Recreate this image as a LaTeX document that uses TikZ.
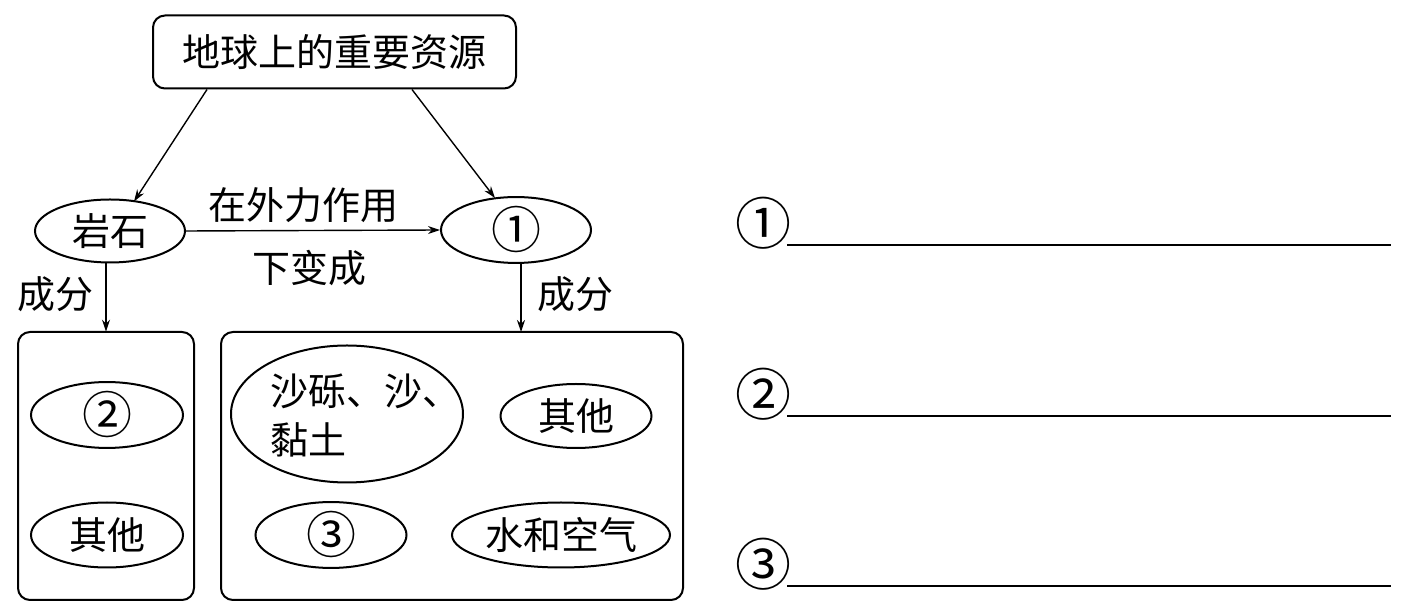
\documentclass[tikz,border=0pt]{standalone}
\usepackage{fontspec}
\newfontfamily\cjk{Noto Sans CJK SC}
\usetikzlibrary{shapes.geometric,arrows.meta,calc}
\tikzset{
  every node/.style={font=\cjk\fontsize{19}{24}\selectfont},
  el/.style 2 args={ellipse,draw,line width=1pt,minimum width=#1*0.5pt,minimum height=#2*0.5pt,inner sep=0pt},
  rbox/.style={draw,line width=1pt,rounded corners=6pt},
  arr/.style={line width=0.7pt,-{Stealth[length=6pt,width=4pt]}},
  lbl/.style={inner sep=0pt},
  blank/.style={line width=0.8pt},
  cn/.style={font=\cjk\fontsize{25}{28}\selectfont},
  num/.style={inner sep=0pt,font=\cjk\fontsize{28}{30}\selectfont}
}
\begin{document}
\begin{tikzpicture}[x=0.5pt,y=-0.5pt]
\useasboundingbox (0,0) rectangle (1407,613);
% top box
\node[rbox,minimum width=363*0.5pt,minimum height=73*0.5pt,inner sep=0pt] (top) at (334.5,52) {地球上的重要资源};
% ellipses row 1
\node[el={150}{63}] (ys) at (110,231) {岩石};
\node[el={150}{65},cn] (c1) at (516,230) {①};
% arrows from top
\draw[arr] ($(top.south west)+(55,0)$) -- ($(ys.north)+(24,3)$);
\draw[arr] ($(top.south east)+(-105,0)$) -- ($(c1.north)+(-21,2)$);
% horizontal arrow
\draw[arr] (ys.east) -- (c1.west);
\node[lbl] (l1) at (303,205) {在外力作用};
\node[lbl] (l2) at (309,268) {下变成};
% boxes
\draw[rbox] (18,332) rectangle (194,600);
\node[inner sep=0pt,minimum width=176*0.5pt,minimum height=268*0.5pt] (lbox) at (106,466) {};
\draw[rbox] (221,332) rectangle (683,600);
\node[inner sep=0pt,minimum width=462*0.5pt,minimum height=268*0.5pt] (rb) at (452,466) {};
% vertical arrows
\draw[arr] (ys.south -| lbox.north) -- (lbox.north);
\coordinate (rbtop) at (521,332);
\draw[arr] (c1.south -| rbtop) -- (rbtop);
\node[lbl] (cf1) at (56,294) {成分};
\node[lbl] (cf2) at (575,294) {成分};
% left box contents
\node[el={152}{64},cn] (n2) at (107,415) {②};
\node[el={152}{65}] (qt1) at (107,535) {其他};
% right box contents
\node[el={232}{137}] (big) at (347,414) {};
\node[lbl,anchor=west] (t1) at (270,391) {沙砾、沙、};
\node[lbl,anchor=west] (t2) at (270,440) {黏土};
\node[el={151}{64}] (qt2) at (576,416) {其他};
\node[el={151}{65},cn] (n3) at (331,535) {③};
\node[el={218}{65}] (sk) at (561,535) {水和空气};
% answer lines
\node[num] (a1) at (763,223) {①};
\node[num] (a2) at (763,394) {②};
\node[num] (a3) at (763,564) {③};
\coordinate (e1) at (1391,245);
\coordinate (e2) at (1391,416);
\coordinate (e3) at (1391,586);
\draw[blank] (e1 -| 787,0) -- (e1);
\draw[blank] (e2 -| 787,0) -- (e2);
\draw[blank] (e3 -| 787,0) -- (e3);
\end{tikzpicture}
\end{document}
